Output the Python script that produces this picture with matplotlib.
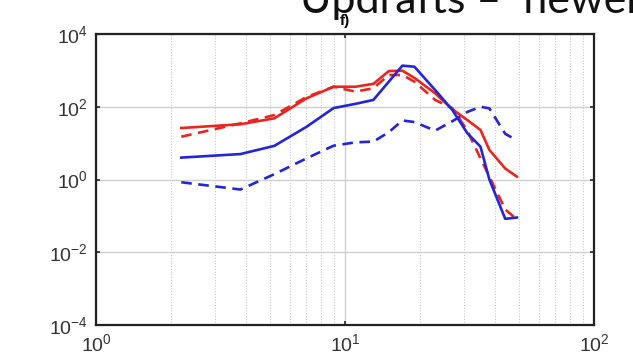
import matplotlib
matplotlib.use('Agg')
import matplotlib.pyplot as plt
import numpy as np
from matplotlib.ticker import LogLocator, NullFormatter

# frequency bins (shared by all four curves)
freq = [2.2, 3.8, 5.2, 7.0, 9.0, 11.0, 13.0, 15.0, 17.0, 19.0, 23.0, 27.0, 31.0, 35.0, 38.0, 44.0, 49.0]

red_solid = [26, 33, 48, 170, 355, 355, 425, 960, 980, 620, 235, 85, 43, 23, 6.5, 2.0, 1.2]
red_dashed = [15, 35, 59, 185, 355, 260, 323, 745, 745, 490, 154, 91, 22, 3.8, 1.2, 0.15, 0.08]
blue_solid = [4.0, 5.0, 8.4, 28, 92, 120, 154, 490, 1350, 1260, 290, 81, 18.7, 8.0, 1.0, 0.083, 0.09]
blue_dashed = [0.84, 0.53, 1.4, 3.8, 8.5, 10.5, 11, 20, 42, 38, 22, 40, 72, 100, 90, 18, 12]

panel_label = 'f)'
slide_title = 'Updrafts \u2013  newer'

red = '#e8251f'
blue = '#2424d8'

fig = plt.figure(figsize=(6.33, 3.61), dpi=100)
ax = fig.add_axes([96 / 633, 1 - 325 / 361, (594 - 96) / 633, (325 - 34) / 361])

ax.loglog(freq, red_solid, color=red, lw=1.9)
ax.loglog(freq, red_dashed, color=red, lw=1.9, ls=(0, (4, 2.5)))
ax.loglog(freq, blue_solid, color=blue, lw=1.9)
ax.loglog(freq, blue_dashed, color=blue, lw=1.9, ls=(0, (4, 2.5)))

ax.set_xlim(1, 100)
ax.set_ylim(1e-4, 1e4)
ax.set_yticks([1e-4, 1e-2, 1e0, 1e2, 1e4])
ax.yaxis.set_minor_locator(plt.NullLocator())
ax.xaxis.set_minor_locator(LogLocator(base=10, subs=np.arange(2, 10), numticks=10))
ax.xaxis.set_minor_formatter(NullFormatter())

ax.grid(True, which='major', color='#d0d0d0', lw=1.0, ls='-')
ax.grid(True, which='minor', axis='x', color='#c8c8c8', lw=0.8, ls=(0, (1, 1.5)))
ax.set_axisbelow(True)

for s in ax.spines.values():
    s.set_linewidth(1.6)
    s.set_color('#222222')
ax.tick_params(which='both', direction='in', top=True, right=True, labelsize=14,
               labelcolor='#333333', pad=6, color='#222222')
ax.tick_params(which='major', length=3, width=1.2)
ax.tick_params(which='minor', length=0)
for lab in ax.get_xticklabels() + ax.get_yticklabels():
    lab.set_fontfamily('Liberation Sans')

fig.text(345 / 633, 1 - 21 / 361, panel_label, ha='center', va='center',
         fontsize=11, fontweight='bold', family='Liberation Sans')
fig.text(300 / 633, 1 - 12.5 / 361, slide_title, ha='left', va='baseline',
         fontsize=31, family='Lato', color='#111111')

fig.savefig('out.png', dpi=100)
